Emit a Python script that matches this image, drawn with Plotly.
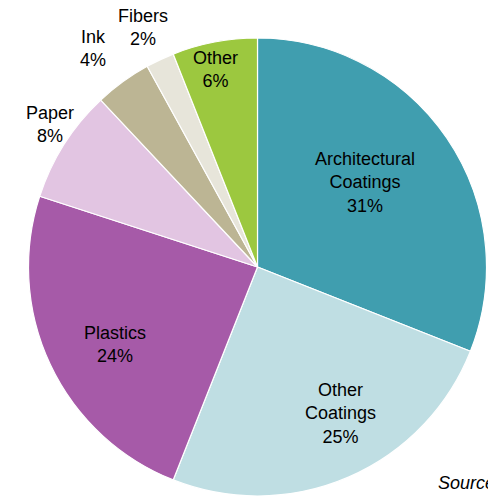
import plotly.graph_objects as go

# Market share by end use (percent)
categories = ["Architectural<br>Coatings", "Other<br>Coatings", "Plastics", "Paper", "Ink", "Fibers", "Other"]
shares = [31, 25, 24, 8, 4, 2, 6]
colors = ["#409EAF", "#BFDEE3", "#A65AA8", "#E2C5E2", "#BCB594", "#E7E5DA", "#9CC83F"]

W, H = 488, 496
FONT = "Liberation Sans, Arial, sans-serif"

# Label anchor points in pixels (x from left, y from top), one per slice
label_px = [(365, 183), (340, 413), (115, 344), (50, 124), (93, 49), (143, 27), (215, 69)]

fig = go.Figure(go.Pie(
    labels=categories,
    values=shares,
    sort=False,
    direction="clockwise",
    rotation=0,
    marker=dict(colors=colors, line=dict(color="white", width=1.2)),
    textinfo="none",
    hoverinfo="label+percent",
    domain=dict(x=[27 / W, 1], y=[0, (H - 38) / H]),
    showlegend=False,
))

for name, val, (px, py) in zip(categories, shares, label_px):
    fig.add_annotation(
        text=f"{name}<br>{val}%",
        x=px / W, y=(H - py) / H, xref="paper", yref="paper",
        xanchor="center", yanchor="middle", align="center", showarrow=False,
        font=dict(family=FONT, size=18, color="black"),
    )

fig.add_annotation(
    text="<i>Source:</i>",
    x=436 / W, y=(H - 483) / H, xref="paper", yref="paper",
    xanchor="left", yanchor="middle", showarrow=False,
    font=dict(family=FONT, size=18, color="black"),
)

fig.update_layout(
    width=W, height=H,
    margin=dict(l=0, r=0, t=0, b=0),
    paper_bgcolor="white",
    plot_bgcolor="white",
)

fig.write_html("out.html")
